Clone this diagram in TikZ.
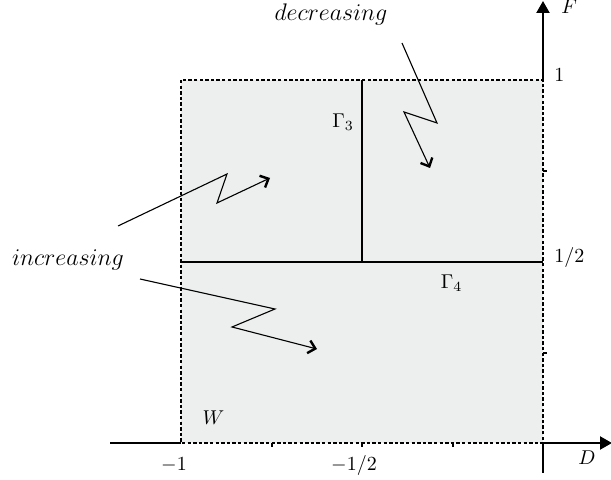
\documentclass[tikz,border=0pt]{standalone}
\usetikzlibrary{arrows.meta}
\definecolor{regionfill}{RGB}{237,238,238}
\begin{document}
\begin{tikzpicture}[x=0.5pt,y=-0.5pt,
  axisline/.style={line width=1.1pt},
  axistip/.style={-{Triangle[length=6pt,width=6.5pt]}},
  boxline/.style={line width=1.15pt,dash pattern=on 1.7pt off 1.1pt},
  gammaline/.style={line width=1.3pt},
  zigzag/.style={line width=0.55pt,-{Straight Barb[length=3.4pt,width=6.5pt,line width=1.2pt]}},
  tickline/.style={line width=0.6pt},
  lbl/.style={inner sep=0pt,anchor=base},
  word/.style={inner sep=0pt,anchor=base,font=\large}]
\useasboundingbox (0,0) rectangle (611,480);
% region
\fill[regionfill] (181,80) rectangle (543,443);
% axes outside the box
\coordinate (xstart) at (110,443);
\coordinate (xbl) at (181,443);
\coordinate (xbr) at (543,443);
\coordinate (xend) at (612,443);
\coordinate (ybot) at (543,473);
\coordinate (ytop) at (543,80);
\coordinate (yend) at (543,1);
\draw[axisline] (xstart) -- (xbl);
\draw[axisline,axistip] (xbr) -- (xend);
\draw[axisline] (ybot) -- (xbr);
\draw[axisline,axistip] (ytop) -- (yend);
% ticks
\foreach \x in {272,362,453} \draw[tickline] (\x,443) -- (\x,447);
\foreach \y in {171,353} \draw[tickline] (543,\y) -- (547,\y);
% dashed box
\draw[boxline] (181,80) rectangle (543,443);
% Gamma lines
\coordinate (g3top) at (362,80);
\coordinate (g3bot) at (362,262);
\coordinate (g4l) at (181,262);
\coordinate (g4r) at (543,262);
\draw[gammaline] (g3top) -- (g3bot);
\draw[gammaline] (g4l) -- (g4r);
% labels
\node[word] (dec) at (331,21) {$decreasing$};
\node[word] (inc) at (68,266) {$increasing$};
\node[lbl] (G3) at (343,128) {$\Gamma_3$};
\node[lbl] (G4) at (451.5,289) {$\Gamma_4$};
\node[lbl,anchor=base west] (half) at (554,263) {$1/2$};
\node[lbl,anchor=base west] (one) at (554,82) {$1$};
\node[lbl] (m1) at (174,471) {$-1$};
\node[lbl] (mhalf) at (354,471) {$-1/2$};
\node[lbl] (W) at (213.5,425) {$W$};
\node[lbl] (D) at (587,465) {$D$};
\node[lbl,anchor=base west] (F) at (561,14) {$F$};
% zigzag arrows
\draw[zigzag] (402,43) -- (437,123) -- (404,112) -- (430,168);
\draw[zigzag] (118,226) -- (227,174) -- (217,203) -- (270,178);
\draw[zigzag] (140,279) -- (275,309) -- (232,327) -- (317,349);
\end{tikzpicture}
\end{document}
